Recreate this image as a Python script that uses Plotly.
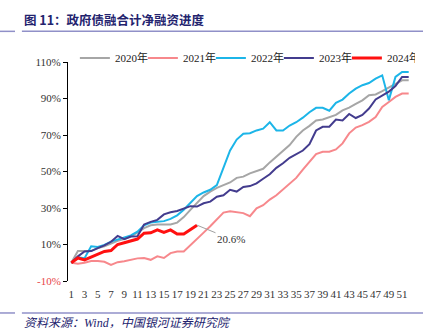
import plotly.graph_objects as go

# 周序号 1-52
weeks = list(range(1, 53))
week_labels = [str(w) for w in range(1, 53, 2)]

# 各年政府债累计净融资进度（%）
progress_2020 = [0, 6.5, 6.5, 6.5, 8, 9, 10.5, 12, 13, 14.5,
                 16.5, 19, 20.5, 21, 21, 21, 22, 25, 29, 33,
                 36.5, 39, 41, 42.5, 44, 46.5, 47.2, 49, 50.3, 51.5,
                 55, 58, 61.5, 64.5, 69, 72.5, 75, 78, 78.5, 79.6,
                 81, 83.5, 85, 87, 89, 91.8, 92.2, 94, 96, 98,
                 100, 100]
progress_2021 = [0, -0.5, 0, 1, 1, 0.5, -1.2, 0.3, 0.8, 1.6,
                 2.4, 2.6, 1.6, 3.5, 2.6, 5.3, 6.2, 6.2, 9.5, 12.8,
                 16.5, 20, 23.5, 27.5, 28.2, 27.8, 27.2, 25.5, 29.8, 31.5,
                 34.6, 37, 40, 43.5, 46.5, 51, 55.5, 59.5, 60.8, 60.8,
                 62.1, 65.4, 70.9, 74.1, 75.4, 77.2, 79.9, 85.4, 88.1, 90.9,
                 92.7, 92.7]
progress_2022 = [0, 3, 2.5, 9, 8.6, 9.8, 11.6, 12.6, 14, 15,
                 17, 20.5, 22, 22.5, 22.8, 24, 26, 29, 33, 36.5,
                 38.5, 40, 42.6, 52.5, 61.5, 67.5, 70.7, 71, 72.5, 73.5,
                 77, 72.5, 72.5, 75.2, 77, 79.5, 82.5, 84.9, 84.9, 83.3,
                 87.6, 89.4, 92.7, 95.4, 97.3, 98.5, 100.9, 102.7, 89.1, 101.8,
                 104.5, 104.5]
progress_2023 = [0, 3.5, 6.2, 6.4, 8, 9.5, 11.5, 14.7, 12.9, 14.4,
                 14.5, 21, 22.4, 23.5, 26.5, 27.7, 28.4, 29.5, 31, 30.8,
                 32.6, 33.5, 36.2, 37, 40, 39, 41.5, 42, 43.5, 46,
                 48.5, 52, 54.5, 57.5, 59.5, 61.5, 65, 72.5, 74.5, 74.5,
                 78.5, 78, 81.5, 79.3, 81, 84.5, 89.5, 91.5, 93.8, 96.8,
                 101.8, 101.8]
progress_2024 = [0, 2.6, 1.6, 3.0, 4.4, 6.2, 6.7, 10, 11, 12,
                 13, 16.2, 16.4, 18, 16.6, 18, 15.7, 15.7, 18.4, 20.6]

series = [
    ("2020年", progress_2020, "#A6A6A6", 2),
    ("2021年", progress_2021, "#F7888C", 2),
    ("2022年", progress_2022, "#1CB5E8", 2),
    ("2023年", progress_2023, "#433C8E", 2),
    ("2024年", progress_2024, "#FF1010", 3),
]

y_ticks = [-10, 10, 30, 50, 70, 90, 110]
y_ticktext = ["<span style='color:#E8454A'>-10%</span>"] + [f"{v}%" for v in y_ticks[1:]]

SERIF = "Liberation Serif, Noto Sans CJK SC, serif"
NAVY = "#23236E"
RULE = "#9090C8"

fig = go.Figure()
for name, vals, color, width in series:
    fig.add_trace(go.Scatter(
        x=weeks[:len(vals)], y=vals, name=name, mode="lines",
        line=dict(color=color, width=width),
    ))

# 2024年最新值标注
last_val = progress_2024[-1]
fig.add_annotation(
    x=len(progress_2024), y=last_val, text=f"{last_val}%",
    showarrow=True, arrowhead=0, arrowwidth=1, arrowcolor="#A0A0A0",
    ax=34, ay=14, standoff=0,
    font=dict(family=SERIF, size=11, color="#333333"),
)

# 标题、来源与分隔线（纸面坐标）
fig.add_annotation(
    xref="paper", yref="paper", x=-0.134, y=1.192, xanchor="left", yanchor="middle",
    text="<b>图 11：政府债融合计净融资进度</b>", showarrow=False,
    font=dict(family="Noto Sans CJK SC", size=12.5, color=NAVY),
)
fig.add_annotation(
    xref="paper", yref="paper", x=-0.134, y=-0.192, xanchor="left", yanchor="middle",
    text="<i>资料来源：Wind，中国银河证券研究院</i>", showarrow=False,
    font=dict(family=SERIF, size=12, color=NAVY),
)
for yy in (1.14, -0.146):
    fig.add_shape(type="line", xref="paper", yref="paper", x0=-0.134, x1=1.032,
                  y0=yy, y1=yy, line=dict(color=RULE, width=1.5))
    fig.add_shape(type="line", xref="paper", yref="paper", x0=-0.198, x1=-0.154,
                  y0=yy, y1=yy, line=dict(color=RULE, width=1.5))

x_range = [0.5, 52.5]
y_range = [-10, 110]
zero_pos = (0 - y_range[0]) / (y_range[1] - y_range[0])

fig.update_layout(
    width=435, height=333,
    margin=dict(l=68, r=23, t=62, b=52),
    paper_bgcolor="white", plot_bgcolor="white",
    font=dict(family=SERIF, size=11, color="#333333"),
    showlegend=True,
    legend=dict(
        orientation="h", x=0.02, y=1.018, xanchor="left", yanchor="middle",
        entrywidth=23, entrywidthmode="pixels",
        font=dict(family=SERIF, size=11, color="#222222"),
        bgcolor="rgba(0,0,0,0)", tracegroupgap=0,
    ),
    xaxis=dict(
        range=x_range, showgrid=False, zeroline=False, showline=False,
        tickmode="array", tickvals=list(range(1, 53, 2)), ticktext=week_labels,
        ticks="", tickangle=0, ticklabelstandoff=5,
        tickfont=dict(family=SERIF, size=11, color="#333333"),
    ),
    xaxis2=dict(
        overlaying="x", anchor="free", position=zero_pos, range=x_range,
        showgrid=False, zeroline=False, showline=True, linecolor="#000000", linewidth=1,
        tickmode="array", tickvals=[w - 0.5 for w in weeks] + [52.5],
        ticks="inside", ticklen=4, tickcolor="#000000", tickwidth=1,
        showticklabels=False,
    ),
    yaxis=dict(
        range=y_range, showgrid=False, zeroline=False,
        showline=True, linecolor="#000000", linewidth=1,
        tickmode="array", tickvals=y_ticks, ticktext=y_ticktext,
        ticks="outside", ticklen=4, tickcolor="#000000",
        tickfont=dict(family=SERIF, size=11, color="#333333"),
    ),
)

fig.write_html("out.html")
